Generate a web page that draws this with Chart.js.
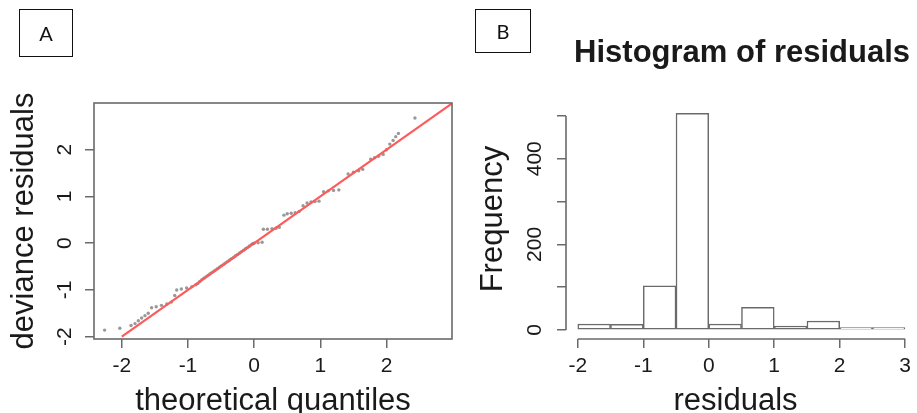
<!DOCTYPE html>
<html>
<head>
<meta charset="utf-8">
<title>Q-Q plot and histogram of residuals</title>
<script src="https://cdn.jsdelivr.net/npm/chart.js@4.4.0/dist/chart.umd.min.js"></script>
<style>
  html, body { margin: 0; padding: 0; background: #fff; }
  body { width: 917px; height: 413px; position: relative; overflow: hidden; }
  .panel { position: absolute; top: 0; height: 413px; }
  #panelA { left: 0; width: 460px; }
  #panelB { left: 460px; width: 457px; }
  .tag {
    position: absolute; box-sizing: border-box; border: 1.5px solid #111;
    display: flex; align-items: center; justify-content: center;
    font-family: Lato, 'Open Sans', sans-serif; font-size: 20px; color: #111;
  }
  #tagA { left: 19px; top: 9px; width: 54px; height: 48px; }
  #tagB { left: 475px; top: 9px; width: 56px; height: 44px; }
</style>
</head>
<body>
<div class="panel" id="panelA"><canvas id="qqChart"></canvas></div>
<div class="panel" id="panelB"><canvas id="histChart"></canvas></div>
<div class="tag" id="tagA">A</div>
<div class="tag" id="tagB">B</div>

<script>
/* ── Data ── */
// A: theoretical quantiles vs sorted deviance residuals
const QQ_THEORETICAL = [
  -2.26, -2.03, -1.86, -1.80, -1.75, -1.70, -1.65, -1.60, -1.55, -1.48,
  -1.40, -1.32, -1.25, -1.20, -1.17, -1.10, -1.02, -0.94, -0.88, -0.85,
  -0.82, -0.79, -0.76, -0.73, -0.70, -0.67, -0.64, -0.61, -0.58, -0.55,
  -0.52, -0.49, -0.46, -0.43, -0.40, -0.37, -0.34, -0.31, -0.28, -0.25,
  -0.22, -0.19, -0.16, -0.13, -0.10, -0.07, -0.04, -0.02,
  0.00, 0.06, 0.12, 0.14, 0.20, 0.27, 0.33, 0.38, 0.45, 0.50,
  0.56, 0.62, 0.68, 0.74, 0.80, 0.86, 0.92, 0.98, 1.05, 1.12,
  1.20, 1.28, 1.42, 1.50, 1.58, 1.64, 1.76, 1.82, 1.88, 1.95,
  2.00, 2.05, 2.10, 2.14, 2.18, 2.43
];
const QQ_RESIDUAL = [
  -1.86, -1.82, -1.76, -1.72, -1.66, -1.60, -1.55, -1.50, -1.38, -1.36,
  -1.33, -1.30, -1.26, -1.12, -1.00, -0.98, -0.96, -0.93, -0.89, -0.86,
  -0.82, -0.78, -0.75, -0.72, -0.69, -0.66, -0.63, -0.60, -0.57, -0.54,
  -0.51, -0.48, -0.45, -0.42, -0.39, -0.36, -0.33, -0.30, -0.27, -0.24,
  -0.21, -0.18, -0.15, -0.12, -0.09, -0.06, -0.03, -0.01,
  0.00, 0.01, 0.02, 0.30, 0.30, 0.31, 0.32, 0.34, 0.60, 0.63,
  0.64, 0.65, 0.68, 0.80, 0.86, 0.88, 0.89, 0.90, 1.10, 1.12,
  1.13, 1.14, 1.48, 1.52, 1.55, 1.58, 1.80, 1.83, 1.86, 1.90,
  2.00, 2.12, 2.20, 2.28, 2.35, 2.68
];
const REF_LINE_X = [-2, 3];
const REF_LINE_Y = [-2, 3];
const QQ_X_TICKS = [-2, -1, 0, 1, 2];
const QQ_Y_TICKS = [-2, -1, 0, 1, 2];

// B: histogram of residuals, bins of width 0.5
const BIN_MIDS = [-1.75, -1.25, -0.75, -0.25, 0.25, 0.75, 1.25, 1.75, 2.25, 2.75];
const BIN_COUNTS = [14, 13, 103, 506, 14, 53, 9, 21, 3, 2];
const HIST_X_TICKS = [-2, -1, 0, 1, 2, 3];
const HIST_Y_TICKS = [0, 100, 200, 300, 400, 500];
const HIST_Y_LABELS = ['0', '', '200', '', '400', ''];

/* ── Style ── */
const LINE_GREY = '#6a6a6a';
const TEXT = '#1a1a1a';
Chart.defaults.font.family = "'Liberation Sans', Arial, sans-serif";
Chart.defaults.color = TEXT;

const fixedTicks = list => scale => { scale.ticks = list.map(v => ({ value: v })); };

function tickGrid() {
  return { drawOnChartArea: false, drawTicks: true, tickLength: 9, color: LINE_GREY, lineWidth: 1.5 };
}

/* R style box around the plot region */
const frameBox = {
  id: 'frameBox',
  afterDraw(chart) {
    const { ctx, chartArea: a } = chart;
    ctx.save();
    ctx.strokeStyle = LINE_GREY;
    ctx.lineWidth = 1.6;
    ctx.strokeRect(a.left, a.top, a.right - a.left, a.bottom - a.top);
    ctx.restore();
  }
};

/* R style detached axes: lines only span first to last tick */
const rAxes = {
  id: 'rAxes',
  afterDraw(chart) {
    const { ctx, chartArea: a, scales: { x, y } } = chart;
    ctx.save();
    ctx.strokeStyle = LINE_GREY;
    ctx.lineWidth = 1.6;
    ctx.beginPath();
    ctx.moveTo(a.left, y.getPixelForValue(HIST_Y_TICKS[0]));
    ctx.lineTo(a.left, y.getPixelForValue(HIST_Y_TICKS[HIST_Y_TICKS.length - 1]));
    ctx.moveTo(x.getPixelForValue(HIST_X_TICKS[0]), a.bottom);
    ctx.lineTo(x.getPixelForValue(HIST_X_TICKS[HIST_X_TICKS.length - 1]), a.bottom);
    ctx.stroke();
    ctx.restore();
  }
};

/* ── A: Q-Q plot ── */
function renderQQ() {
  new Chart(document.getElementById('qqChart'), {
    type: 'scatter',
    data: {
      datasets: [
        {
          type: 'line',
          data: REF_LINE_X.map((v, i) => ({ x: v, y: REF_LINE_Y[i] })),
          borderColor: '#ff5a5a',
          borderWidth: 2.2,
          pointRadius: 0,
          order: 0
        },
        {
          data: QQ_THEORETICAL.map((v, i) => ({ x: v, y: QQ_RESIDUAL[i] })),
          pointRadius: 1.7,
          pointBackgroundColor: 'rgba(50,50,50,0.5)',
          pointBorderWidth: 0,
          order: 1
        }
      ]
    },
    options: {
      responsive: true,
      maintainAspectRatio: false,
      animation: false,
      layout: { padding: { top: 103, right: 8, left: 0, bottom: 0 } },
      plugins: { legend: { display: false }, tooltip: { enabled: false } },
      scales: {
        x: {
          type: 'linear', min: -2.42, max: 2.99,
          afterBuildTicks: fixedTicks(QQ_X_TICKS),
          afterFit: s => { s.height = 74; },
          border: { display: false },
          grid: tickGrid(),
          ticks: { font: { size: 21, lineHeight: 1.2 }, padding: 6, maxRotation: 0 },
          title: { display: true, text: 'theoretical quantiles', font: { size: 31, lineHeight: 0.75 }, padding: 0 }
        },
        y: {
          type: 'linear', min: -2.05, max: 3.0,
          afterBuildTicks: fixedTicks(QQ_Y_TICKS),
          afterFit: s => { s.width = 94; },
          border: { display: false },
          grid: tickGrid(),
          ticks: { font: { size: 21, lineHeight: 1.2 }, padding: 10, minRotation: 90, maxRotation: 90, crossAlign: 'center' },
          title: { display: true, text: 'deviance residuals', font: { size: 31, lineHeight: 0.75 }, padding: { top: 13, bottom: 0 } }
        }
      }
    },
    plugins: [frameBox]
  });
}

/* ── B: Histogram ── */
function renderHist() {
  new Chart(document.getElementById('histChart'), {
    type: 'bar',
    data: {
      datasets: [{
        data: BIN_MIDS.map((m, i) => ({ x: m, y: BIN_COUNTS[i] })),
        backgroundColor: '#ffffff',
        borderColor: LINE_GREY,
        borderWidth: 1.5,
        borderSkipped: false,
        minBarLength: 2.5,
        barPercentage: 1,
        categoryPercentage: 1
      }]
    },
    options: {
      responsive: true,
      maintainAspectRatio: false,
      animation: false,
      layout: { padding: { top: 35, right: 7, left: 0, bottom: 0 } },
      plugins: {
        legend: { display: false },
        tooltip: { enabled: false },
        title: {
          display: true, text: 'Histogram of residuals', align: 'end', color: TEXT,
          font: { size: 31, weight: 'bold', lineHeight: 1.2 }, padding: { top: 0, bottom: 27 }
        }
      },
      scales: {
        x: {
          type: 'linear', min: -2.18, max: 3.0, offset: false,
          afterBuildTicks: fixedTicks(HIST_X_TICKS),
          afterFit: s => { s.height = 74; },
          border: { display: false },
          grid: Object.assign(tickGrid(), { offset: false }),
          ticks: { font: { size: 21, lineHeight: 1.2 }, padding: 6, maxRotation: 0 },
          title: { display: true, text: 'residuals', font: { size: 31, lineHeight: 0.75 }, padding: 0 }
        },
        y: {
          type: 'linear', min: -21, max: 539,
          afterBuildTicks: fixedTicks(HIST_Y_TICKS),
          afterFit: s => { s.width = 106; },
          border: { display: false },
          grid: tickGrid(),
          ticks: {
            font: { size: 21, lineHeight: 1.2 }, padding: 4.5, minRotation: 90, maxRotation: 90, crossAlign: 'center',
            callback: (v, i) => HIST_Y_LABELS[i]
          },
          title: { display: true, text: 'Frequency', font: { size: 31, lineHeight: 0.75 }, padding: { top: 22, bottom: 0 } }
        }
      }
    },
    plugins: [rAxes]
  });
}

/* ── Init ── */
renderQQ();
renderHist();
</script>
</body>
</html>
